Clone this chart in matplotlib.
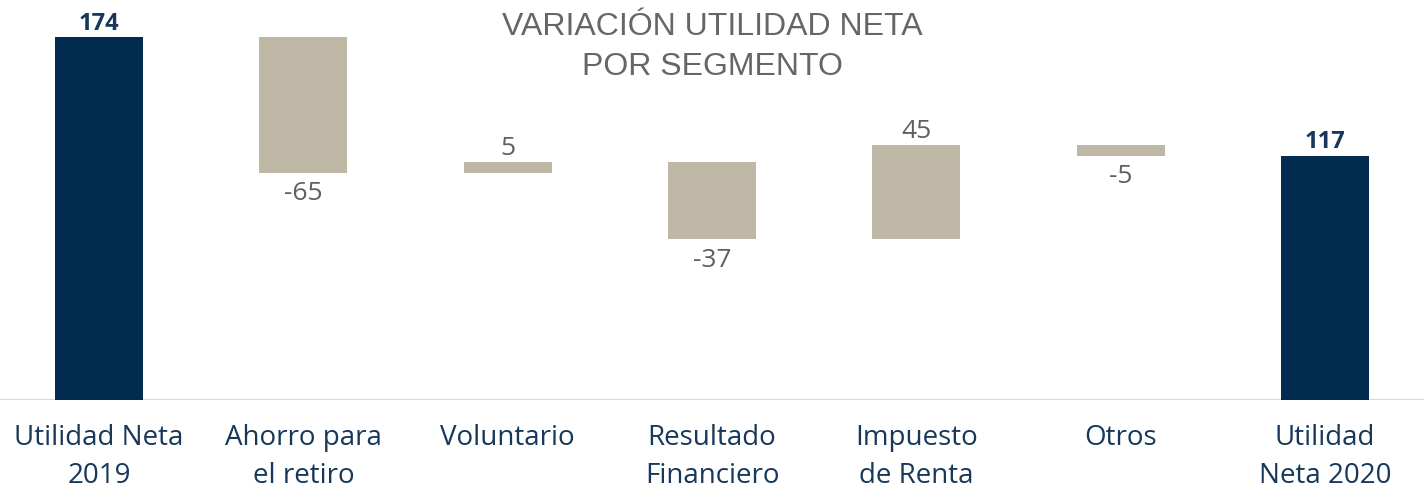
import numpy as np
import matplotlib
matplotlib.use('Agg')
import matplotlib.pyplot as plt

# ── Data ──────────────────────────────────────────────────────────────────────
categories = ['Utilidad Neta\n2019', 'Ahorro para\nel retiro', 'Voluntario',
              'Resultado\nFinanciero', 'Impuesto\nde Renta', 'Otros',
              'Utilidad\nNeta 2020']
values = [174, -65, 5, -37, 45, -5, 117]
is_total = [True, False, False, False, False, False, True]

NAVY = '#022c4f'
TAN = '#bfb8a6'
GRAY = '#5f5f5f'
LABEL = '#17385a'

# waterfall bottoms/heights
bottoms, heights = [], []
running = 0.0
for v, tot in zip(values, is_total):
    if tot:
        bottoms.append(0.0)
        heights.append(v)
        running = v
    else:
        lo = min(running, running + v)
        bottoms.append(lo)
        heights.append(abs(v))
        running += v

fig = plt.figure(figsize=(14.24, 4.88), dpi=100)
ax = fig.add_axes([0, 88 / 488, 1, 400 / 488])

x = np.arange(len(categories))
colors = [NAVY if t else TAN for t in is_total]
ax.bar(x, heights, bottom=bottoms, width=0.43, color=colors, zorder=3)

for xi, v, b, h, tot in zip(x, values, bottoms, heights, is_total):
    txt = f'{v}'
    if tot:
        ax.annotate(txt, (xi, b + h), xytext=(0, 1), textcoords='offset points',
                    ha='center', va='bottom', fontsize=17, fontweight='bold',
                    color=LABEL, family='Open Sans')
    elif v >= 0:
        ax.annotate(txt, (xi, b + h), xytext=(0, 1), textcoords='offset points',
                    ha='center', va='bottom', fontsize=19, color=GRAY,
                    family='Open Sans')
    else:
        ax.annotate(txt, (xi, b), xytext=(0, -6), textcoords='offset points',
                    ha='center', va='top', fontsize=19, color=GRAY,
                    family='Open Sans')

ax.set_xlim(-0.485, len(categories) - 1 + 0.485)
ax.set_ylim(0, 191.7)
ax.axhline(0, color='#d9d9d9', linewidth=1.5, zorder=2)
ax.set_yticks([])
ax.set_xticks(x)
ax.set_xticklabels(categories, fontsize=20, color=LABEL, family='Open Sans',
                   linespacing=1.5)
ax.tick_params(axis='x', length=0, pad=17)
for s in ax.spines.values():
    s.set_visible(False)

fig.text(0.5, 1 - 47 / 488, 'VARIACIÓN UTILIDAD NETA\nPOR SEGMENTO',
         ha='center', va='center', fontsize=23, color='#666666',
         family='Liberation Sans', linespacing=1.4)

fig.savefig('out.png', dpi=100)
